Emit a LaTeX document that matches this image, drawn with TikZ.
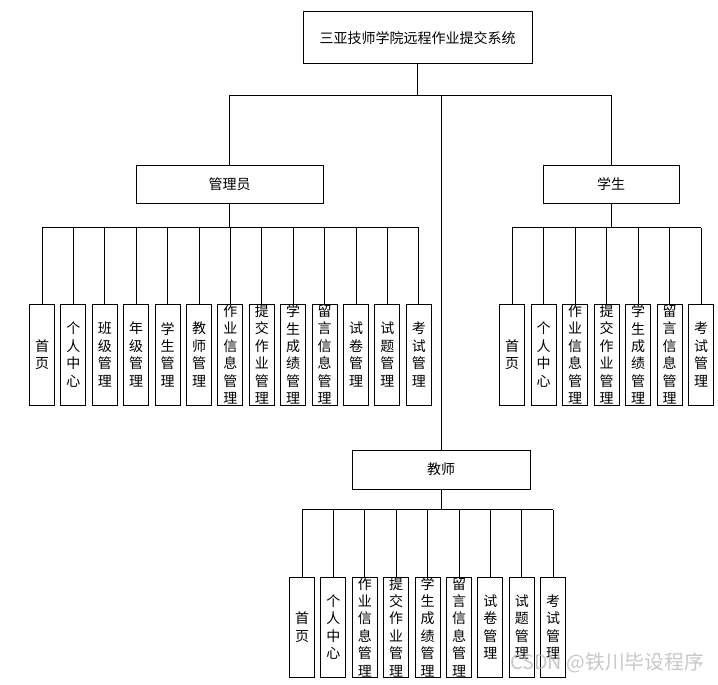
\documentclass[tikz,border=0pt]{standalone}
\usepackage{fontspec}
\setmainfont{Noto Sans CJK SC}
\usetikzlibrary{calc}

\tikzset{
  box/.style={draw, line width=1pt, inner sep=0pt, font=\fontsize{14}{17.5}\selectfont},
  leaf/.style={box, minimum width=25pt, minimum height=101pt,
    label={[font=\fontsize{14}{17.4}\selectfont, align=center, inner sep=0pt]center:#1}},
}

\begin{document}
\begin{tikzpicture}[x=1pt, y=-1pt]
\useasboundingbox (0,0) rectangle (718,685);

\node[box, minimum width=229pt, minimum height=52pt] (sys) at (417.5,38) {三亚技师学院远程作业提交系统};
\node[box, minimum width=187pt, minimum height=38pt] (admin) at (229.5,184) {管理员};
\node[box, minimum width=136pt, minimum height=38pt] (stu) at (611,184) {学生};
\node[box, minimum width=178pt, minimum height=39pt] (tea) at (441,469.5) {教师};

\coordinate (split) at ($(sys.south)+(0,31)$);
\draw[line width=1pt] (sys.south) -- (split);
\draw[line width=1pt] (admin.north) |- (split) -| (stu.north);
\draw[line width=1pt] (split -| tea.north) -- (tea.north);

% admin leaves
\foreach \t [count=\i] in {{首\\页},{个\\人\\中\\心},{班\\级\\管\\理},{年\\级\\管\\理},{学\\生\\管\\理},{教\\师\\管\\理},{作\\业\\信\\息\\管\\理},{提\\交\\作\\业\\管\\理},{学\\生\\成\\绩\\管\\理},{留\\言\\信\\息\\管\\理},{试\\卷\\管\\理},{试\\题\\管\\理},{考\\试\\管\\理}}
  \node[leaf=\t] (a\i) at ({42+31.4*(\i-1)},354.5) {};
\coordinate (abus) at ($(admin.south)+(0,24)$);
\draw[line width=1pt] (admin.south) -- (abus);
\draw[line width=1pt] (a1.north |- abus) -- (a13.north |- abus);
\foreach \i in {1,...,13}
  \draw[line width=1pt] (a\i.north |- abus) -- (a\i.north);

% student leaves
\foreach \t [count=\i] in {{首\\页},{个\\人\\中\\心},{作\\业\\信\\息\\管\\理},{提\\交\\作\\业\\管\\理},{学\\生\\成\\绩\\管\\理},{留\\言\\信\\息\\管\\理},{考\\试\\管\\理}}
  \node[leaf=\t] (s\i) at ({512+31.5*(\i-1)},354.5) {};
\coordinate (sbus) at ($(stu.south)+(0,24)$);
\draw[line width=1pt] (stu.south) -- (sbus);
\draw[line width=1pt] (s1.north |- sbus) -- (s7.north |- sbus);
\foreach \i in {1,...,7}
  \draw[line width=1pt] (s\i.north |- sbus) -- (s\i.north);

% teacher leaves
\foreach \t [count=\i] in {{首\\页},{个\\人\\中\\心},{作\\业\\信\\息\\管\\理},{提\\交\\作\\业\\管\\理},{学\\生\\成\\绩\\管\\理},{留\\言\\信\\息\\管\\理},{试\\卷\\管\\理},{试\\题\\管\\理},{考\\试\\管\\理}}
  \node[leaf=\t, minimum height=100pt] (t\i) at ({302+31.4*(\i-1)},627) {};
\coordinate (tbus) at ($(tea.south)+(0,20)$);
\draw[line width=1pt] (tea.south) -- (tbus);
\draw[line width=1pt] (t1.north |- tbus) -- (t9.north |- tbus);
\foreach \i in {1,...,9}
  \draw[line width=1pt] (t\i.north |- tbus) -- (t\i.north);

\node[anchor=west, text=gray!55, opacity=0.8, inner sep=0pt, font=\fontsize{19.8}{19.8}\selectfont] (mark) at (510,663) {CSDN @铁川毕设程序};

\end{tikzpicture}
\end{document}
